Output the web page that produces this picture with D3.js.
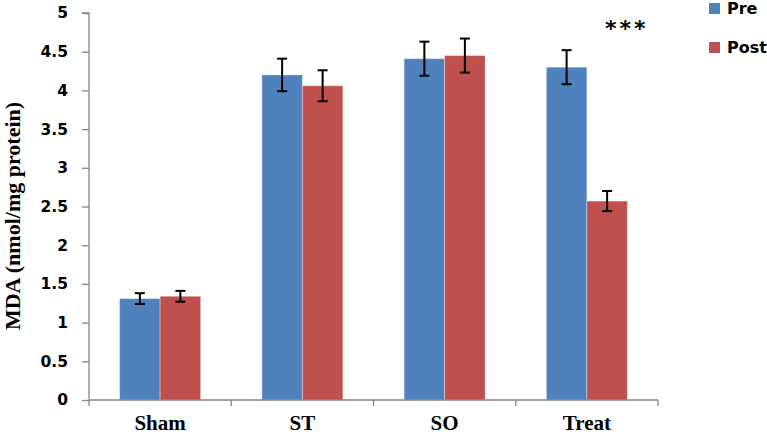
<!DOCTYPE html>
<html>
<head>
<meta charset="utf-8">
<script src="https://cdn.jsdelivr.net/npm/d3@7"></script>
<style>
  html, body { margin: 0; padding: 0; background: #fff; }
  svg { display: block; }
</style>
</head>
<body>
<svg id="chart" width="767" height="434"></svg>
<script>
// ---- data ----
const categories = ["Sham", "ST", "SO", "Treat"];
const seriesNames = ["Pre", "Post"];
const preValues = [1.31, 4.20, 4.41, 4.30];
const postValues = [1.34, 4.06, 4.45, 2.57];
const preErrors = [0.07, 0.21, 0.22, 0.22];
const postErrors = [0.07, 0.20, 0.22, 0.13];
const yTicks = [0, 0.5, 1, 1.5, 2, 2.5, 3, 3.5, 4, 4.5, 5];
const seriesColors = ["#4F81BD", "#C0504D"];
const yLabel = "MDA (nmol/mg protein)";
const significance = "***";

// ---- layout ----
const svg = d3.select("#chart");
const mLeft = 89, mRight = 658, mTop = 13, mBottom = 400;

const x0 = d3.scaleBand().domain(categories).range([mLeft, mRight]).padding(0);
const x1 = d3.scaleBand().domain(seriesNames).range([0, x0.bandwidth()])
  .paddingInner(0).paddingOuter(0.756);
const y = d3.scaleLinear().domain([0, 5]).range([mBottom, mTop]);
const color = d3.scaleOrdinal().domain(seriesNames).range(seriesColors);

const rows = categories.map((c, i) => ({
  cat: c,
  vals: [
    { s: "Pre", v: preValues[i], e: preErrors[i] },
    { s: "Post", v: postValues[i], e: postErrors[i] }
  ]
}));

// bars
const g = svg.append("g");
const groups = g.selectAll("g.cat").data(rows).join("g")
  .attr("class", "cat")
  .attr("transform", d => `translate(${x0(d.cat)},0)`);

groups.selectAll("rect").data(d => d.vals).join("rect")
  .attr("x", d => x1(d.s))
  .attr("y", d => y(d.v))
  .attr("width", x1.bandwidth())
  .attr("height", d => y(0) - y(d.v))
  .attr("fill", d => color(d.s))
  .attr("stroke", "rgba(255,255,255,0.35)")
  .attr("stroke-width", 1);

// error bars
const eb = groups.selectAll("g.err").data(d => d.vals).join("g")
  .attr("class", "err")
  .attr("stroke", "#000")
  .attr("stroke-width", 2);
eb.append("line")
  .attr("x1", d => x1(d.s) + x1.bandwidth() / 2)
  .attr("x2", d => x1(d.s) + x1.bandwidth() / 2)
  .attr("y1", d => y(d.v + d.e))
  .attr("y2", d => y(d.v - d.e));
eb.append("line")
  .attr("x1", d => x1(d.s) + x1.bandwidth() / 2 - 5)
  .attr("x2", d => x1(d.s) + x1.bandwidth() / 2 + 5)
  .attr("y1", d => y(d.v + d.e))
  .attr("y2", d => y(d.v + d.e));
eb.append("line")
  .attr("x1", d => x1(d.s) + x1.bandwidth() / 2 - 5)
  .attr("x2", d => x1(d.s) + x1.bandwidth() / 2 + 5)
  .attr("y1", d => y(d.v - d.e))
  .attr("y2", d => y(d.v - d.e));

// y axis
const yAxis = d3.axisLeft(y).tickValues(yTicks).tickSize(7).tickPadding(14)
  .tickFormat(d3.format("~g"));
const ya = svg.append("g").attr("transform", `translate(${mLeft},0)`).call(yAxis);
ya.select(".domain").attr("stroke", "#868686").attr("stroke-width", 1.3)
  .attr("d", `M-7,${mTop}H0V${mBottom}`);
ya.selectAll(".tick line").attr("stroke", "#868686").attr("stroke-width", 1.3);
ya.selectAll(".tick text")
  .attr("fill", "#000")
  .style("font-family", "'DejaVu Sans', sans-serif")
  .style("font-weight", "bold")
  .style("font-size", "15.5px");

// x axis
const xa = svg.append("g").attr("transform", `translate(0,${mBottom})`);
xa.append("line").attr("x1", mLeft).attr("x2", mRight).attr("y1", 0).attr("y2", 0)
  .attr("stroke", "#868686").attr("stroke-width", 1.3);
const boundaries = categories.map(c => x0(c)).concat([x0(categories[categories.length - 1]) + x0.bandwidth()]);
xa.selectAll("line.tk").data(boundaries).join("line").attr("class", "tk")
  .attr("x1", d => d).attr("x2", d => d).attr("y1", 0).attr("y2", 6)
  .attr("stroke", "#868686").attr("stroke-width", 1.3);
xa.selectAll("text").data(categories).join("text")
  .attr("x", d => x0(d) + x0.bandwidth() / 2)
  .attr("y", 29.5)
  .attr("text-anchor", "middle")
  .style("font-family", "'Liberation Serif', 'Times New Roman', serif")
  .style("font-weight", "bold")
  .style("font-size", "21px")
  .text(d => d);

// y label
svg.append("text")
  .attr("transform", `translate(20,216) rotate(-90)`)
  .attr("text-anchor", "middle")
  .style("font-family", "'Liberation Serif', 'Times New Roman', serif")
  .style("font-weight", "bold")
  .style("font-size", "22px")
  .text(yLabel);

// significance marker
svg.append("text")
  .attr("x", x0("Treat") + x0.bandwidth() / 2 + 40)
  .attr("y", 36)
  .attr("text-anchor", "middle")
  .style("font-family", "'DejaVu Sans', sans-serif")
  .style("font-weight", "bold")
  .style("font-size", "22px")
  .style("letter-spacing", "3px")
  .text(significance);

// legend
const legend = svg.append("g").selectAll("g").data(seriesNames).join("g")
  .attr("transform", (d, i) => `translate(709,${3 + i * 39})`);
legend.append("rect").attr("width", 11).attr("height", 11).attr("fill", d => color(d));
legend.append("text")
  .attr("x", 18).attr("y", 11)
  .style("font-family", "'DejaVu Sans', sans-serif")
  .style("font-weight", "bold")
  .style("font-size", "16px")
  .text(d => d);
</script>
</body>
</html>
